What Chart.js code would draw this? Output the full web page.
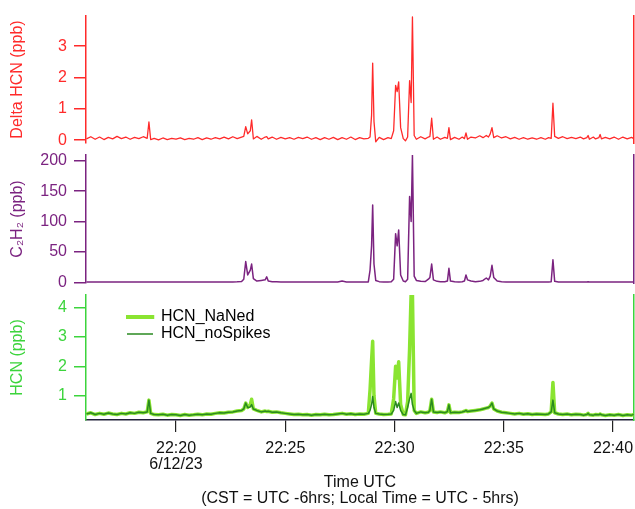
<!DOCTYPE html>
<html>
<head>
<meta charset="utf-8">
<script src="https://cdn.jsdelivr.net/npm/chart.js@4.4.0/dist/chart.umd.min.js"></script>
<style>
  html, body { margin: 0; padding: 0; background: #fff; }
  #wrap { position: relative; width: 635px; height: 509px; }
  #wrap canvas { position: absolute; left: 0; top: 0; }
</style>
</head>
<body>
<div id="wrap">
  <canvas id="deltaChart" width="635" height="509"></canvas>
  <canvas id="c2h2Chart" width="635" height="509"></canvas>
  <canvas id="hcnChart" width="635" height="509"></canvas>
</div>
<script>
// time in minutes after 22:00 UTC (6/12/23)
const times = [
  15.9, 16.1, 16.3, 16.5, 16.7, 16.9, 17.1, 17.3, 17.5, 17.7,
  17.9, 18.1, 18.3, 18.5, 18.68, 18.76, 18.84, 19.0, 19.2, 19.4,
  19.6, 19.8, 20.0, 20.2, 20.4, 20.6, 20.8, 21.0, 21.2, 21.4,
  21.6, 21.8, 22.0, 22.2, 22.4, 22.6, 22.8, 23.0, 23.1, 23.19,
  23.28, 23.4, 23.46, 23.54, 23.7, 23.9, 24.08, 24.15, 24.22, 24.4,
  24.6, 24.8, 25.0, 25.2, 25.4, 25.6, 25.8, 26.0, 26.2, 26.4,
  26.6, 26.8, 27.0, 27.2, 27.4, 27.6, 27.8, 28.0, 28.2, 28.4,
  28.6, 28.8, 28.88, 28.95, 29.0, 29.06, 29.14, 29.3, 29.5, 29.7,
  29.85, 29.96, 30.05, 30.12, 30.19, 30.28, 30.4, 30.5, 30.6, 30.69,
  30.76, 30.82, 30.9, 31.0, 31.2, 31.4, 31.55, 31.62, 31.7, 31.78,
  31.95, 32.1, 32.3, 32.42, 32.49, 32.56, 32.75, 32.95, 33.1, 33.2,
  33.27, 33.34, 33.5, 33.7, 33.9, 34.05, 34.2, 34.3, 34.38, 34.46,
  34.54, 34.7, 34.9, 35.1, 35.3, 35.5, 35.7, 35.9, 36.1, 36.3,
  36.5, 36.7, 36.9, 37.05, 37.17, 37.25, 37.33, 37.5, 37.7, 37.9,
  38.1, 38.3, 38.5, 38.65, 38.8, 38.86, 38.92, 39.1, 39.2, 39.35,
  39.41, 39.47, 39.65, 39.85, 40.05, 40.25, 40.45, 40.65, 40.85, 40.95
];

// Delta HCN (ppb)
const deltaHCN = [
  0.04, 0.11, 0.03, 0.1, 0.02, 0.09, 0.04, 0.12, 0.05, 0.1,
  0.03, 0.09, 0.05, 0.11, 0.06, 0.58, 0.02, 0.06, 0.01, 0.07,
  0.02, 0.06, 0.03, 0.07, 0.02, 0.06, 0.03, 0.08, 0.02, 0.07,
  0.03, 0.08, 0.04, 0.1, 0.04, 0.11, 0.05, 0.1, 0.12, 0.43,
  0.2, 0.3, 0.65, 0.04, 0.12, 0.03, 0.1, 0.11, 0.04, 0.1,
  0.03, 0.09, 0.04, 0.08, 0.03, 0.09, 0.05, 0.1, 0.03, 0.08,
  0.02, 0.08, 0.03, 0.09, 0.02, 0.08, 0.03, 0.1, 0.02, 0.08,
  0.04, 0.06, 0.1, 0.8, 2.46, 0.6, -0.05, 0.09, 0.02, 0.08,
  0.05, 0.3, 1.75, 1.55, 1.86, 0.4, 0.05, -0.02, 0.1, 1.9,
  1.2, 3.93, 0.15, 0.03, 0.11, 0.04, 0.1, 0.12, 0.7, 0.03,
  0.1, 0.03, 0.09, 0.06, 0.4, 0.02, 0.09, 0.03, 0.1, 0.05,
  0.23, 0.03, 0.1, 0.07, 0.14, 0.08, 0.15, 0.1, 0.2, 0.4,
  0.08, 0.14, 0.07, 0.11, 0.04, 0.09, 0.03, 0.08, 0.03, 0.07,
  0.03, 0.08, 0.03, 0.08, 0.06, 1.18, 0.12, 0.06, 0.11, 0.05,
  0.09, 0.05, 0.1, 0.04, 0.08, 0.15, 0.03, 0.1, 0.04, 0.08,
  0.18, 0.04, 0.09, 0.04, 0.1, 0.03, 0.1, 0.04, 0.09, 0.05
];

// C2H2 (ppb)
const c2h2 = [
  0.5, 0.6, 0.5, 0.6, 0.5, 0.4, 0.5, 0.4, 0.5, 0.4,
  0.4, 0.5, 0.4, 0.5, 0.4, 0.6, 0.4, 0.3, 0.4, 0.3,
  0.3, 0.4, 0.3, 0.3, 0.4, 0.3, 0.3, 0.4, 0.3, 0.4,
  0.3, 0.4, 0.5, 0.4, 0.5, 0.6, 0.8, 1.2, 5, 34,
  12, 20, 30, 6, 2, 3, 4, 9, 2, 1,
  0.8, 0.6, 0.5, 0.5, 0.4, 0.4, 0.5, 0.4, 0.4, 0.5,
  0.4, 0.5, 0.4, 0.5, 0.6, 2, 0.6, 0.5, 0.4, 0.5,
  0.5, 0.6, 20, 60, 127, 30, 3, 1, 0.6, 0.5,
  0.8, 5, 80, 60, 86, 12, 2, 1, 5, 141,
  100, 209, 10, 3, 1.5, 1.2, 5, 8, 30, 4,
  1.5, 1, 0.8, 2, 23, 2, 0.8, 0.6, 1, 2,
  12, 4, 2, 1, 1.5, 3, 7, 4, 10, 28,
  8, 2, 1, 0.6, 0.5, 0.4, 0.4, 0.5, 0.4, 0.4,
  0.4, 0.5, 0.4, 0.5, 1, 37, 1.5, 0.6, 0.5, 0.4,
  0.4, 0.5, 0.4, 0.5, 0.5, 0.8, 0.5, 0.4, 0.5, 0.4,
  0.6, 0.5, 0.4, 0.5, 0.4, 0.5, 0.4, 0.5, 0.4, 0.5
];

// HCN (ppb), spikes kept
const hcnNaNed = [
  0.38, 0.42, 0.36, 0.4, 0.37, 0.41, 0.38, 0.36, 0.4, 0.38,
  0.42, 0.4, 0.44, 0.42, 0.45, 0.85, 0.4, 0.36, 0.35, 0.37,
  0.34, 0.36, 0.35, 0.33, 0.36, 0.34, 0.35, 0.37, 0.35, 0.38,
  0.37, 0.4, 0.42, 0.41, 0.44, 0.45, 0.48, 0.5, 0.55, 0.75,
  0.6, 0.7, 0.88, 0.55, 0.5, 0.45, 0.48, 0.46, 0.47, 0.44,
  0.45, 0.42, 0.4, 0.38, 0.36, 0.37, 0.35, 0.36, 0.34, 0.36,
  0.35, 0.37, 0.35, 0.36, 0.38, 0.4, 0.37, 0.39, 0.36, 0.38,
  0.37, 0.4, 1.2, 2.2, 2.85, 1.0, 0.4, 0.38, 0.36, 0.37,
  0.38, 0.9, 2.0, 1.6, 2.15, 0.7, 0.36, 0.35, 0.8, 2.6,
  4.47, 4.47, 0.5, 0.4, 0.45, 0.42, 0.44, 0.5, 0.88, 0.45,
  0.43, 0.45, 0.42, 0.46, 0.69, 0.42, 0.44, 0.43, 0.45, 0.47,
  0.5, 0.46, 0.48, 0.5, 0.52, 0.55, 0.58, 0.6, 0.65, 0.75,
  0.55, 0.48, 0.44, 0.42, 0.4, 0.38, 0.4, 0.37, 0.39, 0.36,
  0.38, 0.37, 0.36, 0.38, 0.45, 1.45, 0.42, 0.38, 0.36, 0.38,
  0.35, 0.37, 0.36, 0.34, 0.36, 0.4, 0.35, 0.34, 0.36, 0.35,
  0.38, 0.35, 0.33, 0.35, 0.34, 0.36, 0.33, 0.35, 0.34, 0.36
];

// HCN (ppb), spikes removed
const hcnNoSpikes = [
  0.38, 0.42, 0.36, 0.4, 0.37, 0.41, 0.38, 0.36, 0.4, 0.38,
  0.42, 0.4, 0.44, 0.42, 0.45, 0.85, 0.4, 0.36, 0.35, 0.37,
  0.34, 0.36, 0.35, 0.33, 0.36, 0.34, 0.35, 0.37, 0.35, 0.38,
  0.37, 0.4, 0.42, 0.41, 0.44, 0.45, 0.48, 0.5, 0.55, 0.75,
  0.6, 0.62, 0.7, 0.55, 0.5, 0.45, 0.48, 0.46, 0.47, 0.44,
  0.45, 0.42, 0.4, 0.38, 0.36, 0.37, 0.35, 0.36, 0.34, 0.36,
  0.35, 0.37, 0.35, 0.36, 0.38, 0.4, 0.37, 0.39, 0.36, 0.38,
  0.37, 0.4, 0.5, 0.7, 0.97, 0.6, 0.4, 0.38, 0.36, 0.37,
  0.38, 0.5, 0.8, 0.6, 0.75, 0.5, 0.36, 0.35, 0.6, 0.9,
  1.08, 0.7, 0.5, 0.4, 0.45, 0.42, 0.44, 0.5, 0.88, 0.45,
  0.43, 0.45, 0.42, 0.46, 0.69, 0.42, 0.44, 0.43, 0.45, 0.47,
  0.5, 0.46, 0.48, 0.5, 0.52, 0.55, 0.58, 0.6, 0.65, 0.75,
  0.55, 0.48, 0.44, 0.42, 0.4, 0.38, 0.4, 0.37, 0.39, 0.36,
  0.38, 0.37, 0.36, 0.38, 0.45, 0.85, 0.42, 0.38, 0.36, 0.38,
  0.35, 0.37, 0.36, 0.34, 0.36, 0.4, 0.35, 0.34, 0.36, 0.35,
  0.38, 0.35, 0.33, 0.35, 0.34, 0.36, 0.33, 0.35, 0.34, 0.36
];

const xTicks = [20, 25, 30, 35, 40];
const xTickLabels = [['22:20', '6/12/23'], '22:25', '22:30', '22:35', '22:40'];
const deltaTicks = [0, 1, 2, 3];
const c2h2Ticks = [0, 50, 100, 150, 200];
const hcnTicks = [1, 2, 3, 4];

const xMin = 15.88, xMax = 40.96;
const font = { family: '"Liberation Sans", Arial, Helvetica, sans-serif', size: 16 };

Chart.defaults.font = font;
Chart.defaults.animation = false;

function points(values) {
  return times.map((t, i) => ({ x: t, y: values[i] }));
}

function xScale(show) {
  return {
    type: 'linear', min: xMin, max: xMax, display: show,
    afterBuildTicks: s => { s.ticks = xTicks.map(v => ({ value: v })); },
    afterFit: s => {
      if (!show) return;
      s.height = 89; s.paddingLeft = 0; s.paddingRight = 0;
    },
    ticks: {
      color: '#111', padding: 9, maxRotation: 0, autoSkip: false,
      font: { ...font, lineHeight: 1 },
      callback: (v, i) => xTickLabels[i]
    },
    grid: { drawOnChartArea: false, tickLength: 12, color: '#222', lineWidth: 1.2 },
    border: { color: '#22223a', width: 1.5 },
    title: {
      display: true, color: '#111',
      text: ['Time UTC', '(CST = UTC -6hrs; Local Time = UTC - 5hrs)'],
      font: { ...font, lineHeight: 1 },
      padding: { top: 0, bottom: 2 }
    }
  };
}

function yScale(color, min, max, tickVals, title) {
  return {
    position: 'left', min, max,
    afterBuildTicks: s => { s.ticks = tickVals.map(v => ({ value: v })); },
    afterFit: s => { s.width = 86; s.paddingTop = 0; s.paddingBottom = 0; },
    ticks: { color, padding: 7 },
    grid: { drawOnChartArea: false, tickLength: 12, color, lineWidth: 1.5 },
    border: { color, width: 1.5 },
    title: { display: true, text: title, color, padding: { top: 8, bottom: 0 } }
  };
}

function rightEdge(color) {
  return {
    position: 'right',
    afterFit: s => { s.width = 1; s.paddingTop = 0; s.paddingBottom = 0; },
    ticks: { display: false },
    grid: { drawOnChartArea: false, drawTicks: false },
    border: { color, width: 1.5 }
  };
}

// moves the in-plot legend to where the original sits
const legendNudge = {
  id: 'legendNudge',
  afterLayout(chart) {
    const lg = chart.legend;
    const area = chart.chartArea;
    if (lg && lg.options.display) {
      lg.left = area.left + 40;
      lg.top = area.top + 13;
      lg.bottom = area.bottom;
    }
  }
};

function makePanel(id, datasets, yOpts, showX, padTop, padBottom, legend) {
  new Chart(document.getElementById(id), {
    type: 'line',
    data: { datasets },
    options: {
      responsive: false,
      events: [],
      layout: { padding: { top: padTop, bottom: padBottom, left: 0, right: 0 } },
      elements: { point: { radius: 0 }, line: { tension: 0, borderJoinStyle: 'round' } },
      scales: { x: xScale(showX), y: yOpts.y, y2: yOpts.y2 },
      plugins: { legend: legend || { display: false }, tooltip: { enabled: false } }
    },
    plugins: legend ? [legendNudge] : []
  });
}

const red = '#ff2a2a', purple = '#7b2380', green = '#3cd43c';
const lightGreen = '#8ae431', darkGreen = '#2a8a20';

makePanel('deltaChart', [{
  label: 'Delta HCN', data: points(deltaHCN), borderColor: red, backgroundColor: red, borderWidth: 1.3
}], { y: yScale(red, -0.09, 3.96, deltaTicks, 'Delta HCN (ppb)'), y2: rightEdge(red) }, false, 16, 366);

makePanel('c2h2Chart', [{
  label: 'C2H2', data: points(c2h2), borderColor: purple, backgroundColor: purple, borderWidth: 1.5
}], { y: yScale(purple, -1.2, 209.4, c2h2Ticks, 'C\u2082H\u2082 (ppb)'), y2: rightEdge(purple) }, false, 155, 226);

makePanel('hcnChart', [
  { label: 'HCN_noSpikes', data: points(hcnNoSpikes), borderColor: darkGreen, backgroundColor: darkGreen, borderWidth: 1.5 },
  { label: 'HCN_NaNed', data: points(hcnNaNed), borderColor: lightGreen, backgroundColor: lightGreen, borderWidth: 3.5 }
], { y: yScale(green, 0.175, 4.42, hcnTicks, 'HCN (ppb)'), y2: rightEdge(green) }, true, 295, 0, {
  display: true, position: 'chartArea', align: 'start',
  labels: {
    boxWidth: 26, boxHeight: 1.5, padding: 1, color: '#111',
    sort: (a, b) => b.datasetIndex - a.datasetIndex,
    generateLabels: chart => chart.data.datasets.map((d, i) => ({
      text: d.label, fillStyle: d.borderColor, strokeStyle: d.borderColor,
      lineWidth: d.borderWidth > 2 ? 2.5 : 0, datasetIndex: i, hidden: false
    }))
  }
});
</script>
</body>
</html>
